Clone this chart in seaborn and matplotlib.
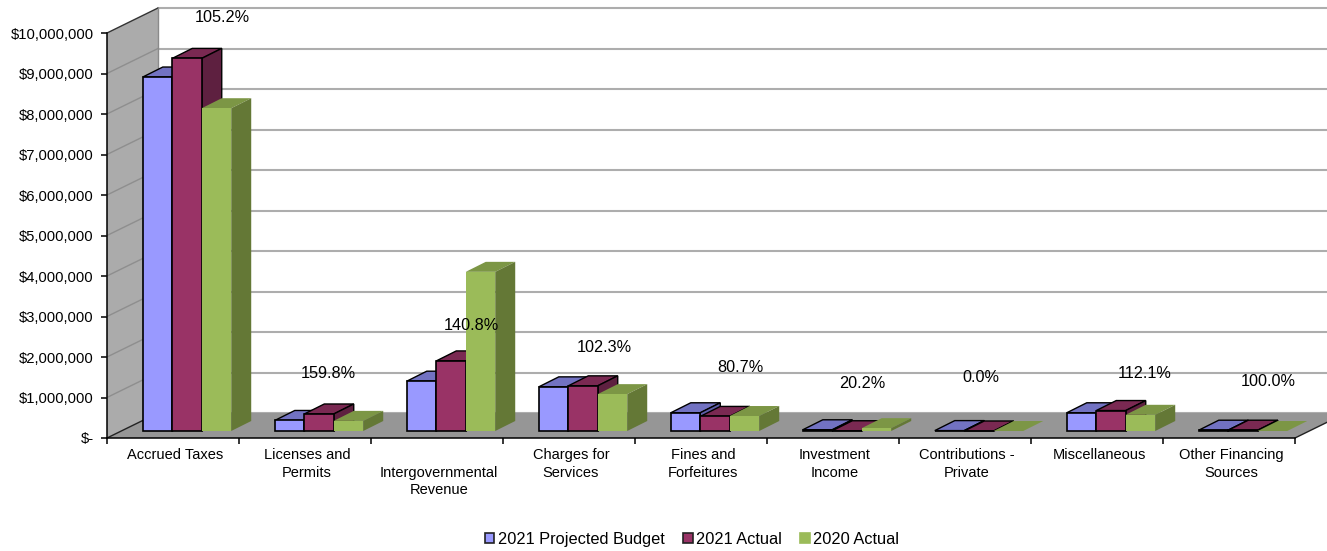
import matplotlib
matplotlib.use("Agg")
import matplotlib.pyplot as plt
from matplotlib.patches import Patch
from matplotlib.transforms import ScaledTranslation
import numpy as np
import pandas as pd
import seaborn as sns

categories = ["Accrued Taxes", "Licenses and\nPermits", "\nIntergovernmental\nRevenue",
              "Charges for\nServices", "Fines and\nForfeitures", "Investment\nIncome",
              "Contributions -\nPrivate", "Miscellaneous", "Other Financing\nSources"]
series_names = ["2021 Projected Budget", "2021 Actual", "2020 Actual"]
budget_2021 = [8740000, 260000, 1230000, 1090000, 450000, 30000, 10000, 450000, 20000]
actual_2021 = [9200000, 420000, 1730000, 1115000, 360000, 6000, 0, 505000, 20000]
actual_2020 = [7970000, 250000, 3930000, 910000, 370000, 70000, 0, 400000, 0]
percent_labels = ["105.2%", "159.8%", "140.8%", "102.3%", "80.7%", "20.2%", "0.0%", "112.1%", "100.0%"]
y_ticks = [0, 1e6, 2e6, 3e6, 4e6, 5e6, 6e6, 7e6, 8e6, 9e6, 1e7]

# layout, in pixels of the 1327x551 picture
W, H = 1327, 551
percent_xy = [(222, 18), (328, 374), (471, 326), (604, 347), (740, 367),
              (862, 383), (981, 378), (1145, 374), (1268, 381)]
X0, X1, Y0, Y10 = 107, 1295, 438, 33
CAT = (X1 - X0) / 9
PX_Y = 1e7 / (Y0 - Y10)         # dollars per pixel
WALL_DX, WALL_DY = 51, 25       # depth of the room
BAR_SHIFT_X, BAR_SHIFT_Y = 14, 7   # bars sit inside the room's depth
BAR_DX, BAR_DY = 20, 10         # depth of one bar

front = ["#9999FF", "#993366", "#9BBB59"]
top = ["#7272C2", "#7A2952", "#7C9645"]
side = ["#5E5EA8", "#5E2040", "#647836"]
edges = ["black", "black", "none"]

sns.set_theme(style="white")
plt.rcParams["font.family"] = ["Liberation Sans", "DejaVu Sans"]
plt.rcParams["axes.unicode_minus"] = False

fig = plt.figure(figsize=(W / 100, H / 100), dpi=100, facecolor="white")


def box(l, r, b, t):
    return [l / W, 1 - b / H, (r - l) / W, (b - t) / H]


ax = fig.add_axes(box(X0, X1, Y0, Y10))
ax.patch.set_alpha(0)
ax.set_xlim(-0.5, 8.5)
ax.set_ylim(0, 1e7)
sns.despine(ax=ax, top=True, right=True)
for s in ("left", "bottom"):
    ax.spines[s].set_color("black")
    ax.spines[s].set_linewidth(1.1)

wdx, wdy = WALL_DX / CAT, WALL_DY * PX_Y
# left wall, floor
ax.fill([-0.5, -0.5 + wdx, -0.5 + wdx, -0.5], [0, wdy, 1e7 + wdy, 1e7],
        color="#ABABAB", lw=0, clip_on=False, zorder=1)
ax.fill([-0.5, 8.5, 8.5 + wdx, -0.5 + wdx], [0, 0, wdy, wdy],
        color="#969696", lw=0, clip_on=False, zorder=1)
# grid on both walls
for v in y_ticks:
    ax.plot([-0.5 + wdx, 8.5 + wdx], [v + wdy, v + wdy], color="#ADADAD", lw=1.5,
            clip_on=False, zorder=0.5)
    if 0 < v < 1e7:
        ax.plot([-0.5, -0.5 + wdx], [v, v + wdy], color="#8E8E8E", lw=1.0,
                clip_on=False, zorder=1.5)
ax.plot([-0.5, -0.5 + wdx], [1e7, 1e7 + wdy], color="#333333", lw=1, clip_on=False, zorder=2)
ax.plot([-0.5, -0.5 + wdx], [0, wdy], color="#222222", lw=1, clip_on=False, zorder=2)
ax.plot([-0.5 + wdx, -0.5 + wdx], [wdy, 1e7 + wdy], color="#8A8A8A", lw=1, clip_on=False, zorder=2)
ax.plot([8.5, 8.5 + wdx], [0, wdy], color="#222222", lw=1, clip_on=False, zorder=2)

ax.set_yticks(y_ticks)
ax.set_yticklabels(["$-"] + [f"${v:,.0f}" for v in y_ticks[1:]], fontsize=10.6, color="black")
ax.set_xticks(np.arange(-0.5, 9, 1))
ax.set_xticklabels([])
ax.set_xticks(np.arange(9), labels=categories, minor=True)
ax.tick_params(axis="y", length=4, width=1.1, color="black", pad=5.5, left=True)
ax.tick_params(axis="x", which="major", length=4, width=1.1, color="black", bottom=True)
ax.tick_params(axis="x", which="minor", length=0, pad=7.5, labelsize=10.5, labelcolor="black")
shift = ScaledTranslation(2 / 100, 0, fig.dpi_scale_trans)
for lab in ax.get_xticklabels(minor=True):
    lab.set_transform(lab.get_transform() + shift)
    lab.set_linespacing(1.3)

# bars: a second, transparent axes on the plane inside the room
ax_b = fig.add_axes(box(X0 + BAR_SHIFT_X, X1 + BAR_SHIFT_X, Y0 - BAR_SHIFT_Y, Y10 - BAR_SHIFT_Y))
ax_b.patch.set_alpha(0)
df = pd.DataFrame({"category": categories, series_names[0]: budget_2021,
                   series_names[1]: actual_2021, series_names[2]: actual_2020})
long = df.melt("category", var_name="series", value_name="value")
sns.barplot(data=long, x="category", y="value", hue="series", hue_order=series_names,
            palette=front, width=0.67, gap=0, saturation=1, legend=False, ax=ax_b, errorbar=None)
ax_b.set_xlim(-0.5, 8.5)
ax_b.set_ylim(0, 1e7)
ax_b.axis("off")

bdx, bdy = BAR_DX / CAT, BAR_DY * PX_Y
for i, cont in enumerate(ax_b.containers):
    for p in cont:
        x, y, w, h = p.get_x(), p.get_y(), p.get_width(), p.get_height()
        z = 3 + i
        p.set_zorder(z + 0.2)
        p.set_edgecolor(edges[i])
        p.set_linewidth(1.2 if edges[i] != "none" else 0)
        p.set_clip_on(False)
        ec = edges[i]
        lw = 1.0 if ec != "none" else 0
        ax_b.fill([x, x + w, x + w + bdx, x + bdx], [y + h, y + h, y + h + bdy, y + h + bdy],
                  facecolor=top[i], edgecolor=ec, lw=lw, clip_on=False, zorder=z)
        ax_b.fill([x + w, x + w + bdx, x + w + bdx, x + w], [y, y + bdy, y + h + bdy, y + h],
                  facecolor=side[i], edgecolor=ec, lw=lw, clip_on=False, zorder=z + 0.1)

# percent labels
for txt, (px, py) in zip(percent_labels, percent_xy):
    fig.text(px / W, 1 - py / H, txt, ha="center", va="center", fontsize=11.7, color="black", zorder=10)

# legend
handles = [Patch(facecolor=front[i], edgecolor="#222222" if edges[i] != "none" else front[i],
                 linewidth=1.2, label=series_names[i]) for i in range(3)]
fig.legend(handles=handles, loc="center", bbox_to_anchor=(692 / W, 1 - 539.5 / H), ncol=3, frameon=False,
           fontsize=11.75, handlelength=0.6, handleheight=0.6, handletextpad=0.22,
           columnspacing=1.1, labelcolor="black")

fig.savefig("out.png", dpi=100, facecolor="white")
